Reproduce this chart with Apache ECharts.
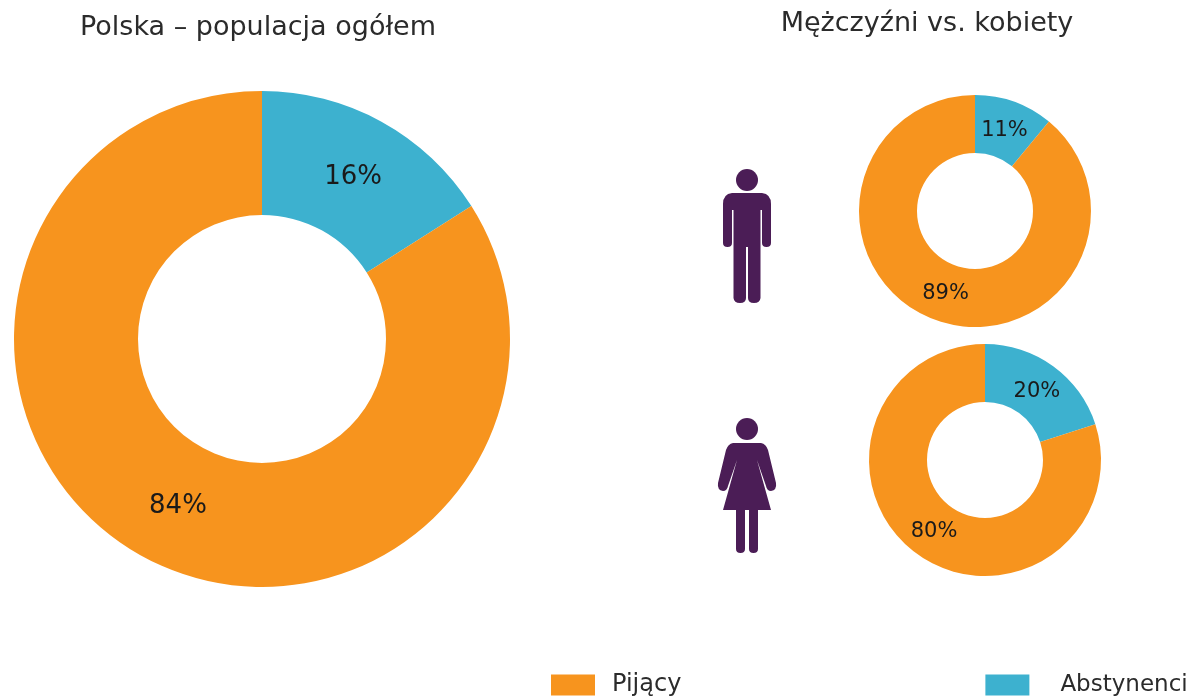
<!DOCTYPE html>
<html>
<head>
<meta charset="utf-8">
<title>Pijący i abstynenci</title>
<script src="https://cdn.jsdelivr.net/npm/echarts@6/dist/echarts.min.js"></script>
<style>
html, body { margin: 0; padding: 0; background: #fff; }
#chart { width: 1192px; height: 700px; }
</style>
</head>
<body>
<div id="chart"></div>
<script>
var categories = ['Abstynenci', 'Pijący'];
var ogolem = [16, 84];
var mezczyzni = [11, 89];
var kobiety = [20, 80];
var colors = ['#3db1cf', '#f7941e'];
var purple = '#4b1d56';
var font = '"DejaVu Sans", Verdana, sans-serif';

var manPath = 'M732 193 H762 Q771 194 771 204 V243 Q771 247 766.5 247 Q762 247 762 243 V210 H760.5 V298 ' +
  'Q760 303 754 303 Q748 303 748 298 V247 H746 V298 Q746 303 740 303 Q734 303 733.5 298 V210 H732 V243 ' +
  'Q732 247 727.5 247 Q723 247 723 243 V204 Q723 194 732 193 Z';
var womanPath = 'M733 443 H761 Q766 444 768 450 L776 483 Q777 490 771 491 Q767 491 766 486 L757 460 L771 510 ' +
  'H758 V549 Q758 553 753.5 553 Q749 553 749 549 V510 H745 V549 Q745 553 740.5 553 Q736 553 736 549 V510 ' +
  'H723 L737 460 L728 486 Q727 491 723 491 Q717 490 718 483 L726 450 Q728 444 733 443 Z';

// the graphic component has no plain path type, so the icons are registered as shapes
echarts.graphic.registerShape('manIcon', echarts.graphic.extendPath(manPath, {}));
echarts.graphic.registerShape('womanIcon', echarts.graphic.extendPath(womanPath, {}));

function addDonut(values, center, radius, fontSize, offsets) {
  return {
    type: 'pie',
    center: center,
    radius: radius,
    startAngle: 90,
    silent: true,
    animation: false,
    label: {
      show: true,
      position: 'inside',
      formatter: '{d}%',
      fontFamily: font,
      fontSize: fontSize,
      color: '#1a1a1a'
    },
    labelLine: { show: false },
    data: categories.map(function (name, i) {
      return { name: name, value: values[i], label: { offset: offsets[i] } };
    })
  };
}

var myChart = echarts.init(document.getElementById('chart'));
myChart.setOption({
  animation: false,
  color: colors,
  title: [
    {
      text: 'Polska – populacja ogółem',
      left: 253,
      top: 9,
      textAlign: 'center',
      textStyle: { fontFamily: font, fontSize: 27, fontWeight: 'normal', color: '#2b2b2b' }
    },
    {
      text: 'Mężczyźni vs. kobiety',
      left: 922,
      top: 5,
      textAlign: 'center',
      textStyle: { fontFamily: font, fontSize: 27, fontWeight: 'normal', color: '#2b2b2b' }
    }
  ],
  legend: {
    left: 546,
    top: 668,
    width: 700,
    data: [
      { name: 'Pijący', textStyle: { padding: [6, 0, 0, 12] } },
      { name: 'Abstynenci', textStyle: { fontSize: 23, padding: [0, 0, 0, 26] } }
    ],
    itemWidth: 44,
    itemHeight: 21,
    itemGap: 304,
    icon: 'rect',
    textStyle: { fontFamily: font, fontSize: 24, color: '#2b2b2b' }
  },
  series: [
    addDonut(ogolem, [262, 339], [124, 248], 26, [[0, 4], [7, 2]]),
    addDonut(mezczyzni, [975, 211], [58, 116], 21, [[-1, 4], [1, -2]]),
    addDonut(kobiety, [985, 460], [58, 116], 21, [[-1, 4], [2, -1]])
  ],
  graphic: [
    { type: 'circle', shape: { cx: 747, cy: 180, r: 11 }, style: { fill: purple }, silent: true },
    { type: 'manIcon', style: { fill: purple }, silent: true },
    { type: 'circle', shape: { cx: 747, cy: 429, r: 11 }, style: { fill: purple }, silent: true },
    { type: 'womanIcon', style: { fill: purple }, silent: true }
  ]
});
window.addEventListener('resize', function () {
  myChart.resize();
});
</script>
</body>
</html>
